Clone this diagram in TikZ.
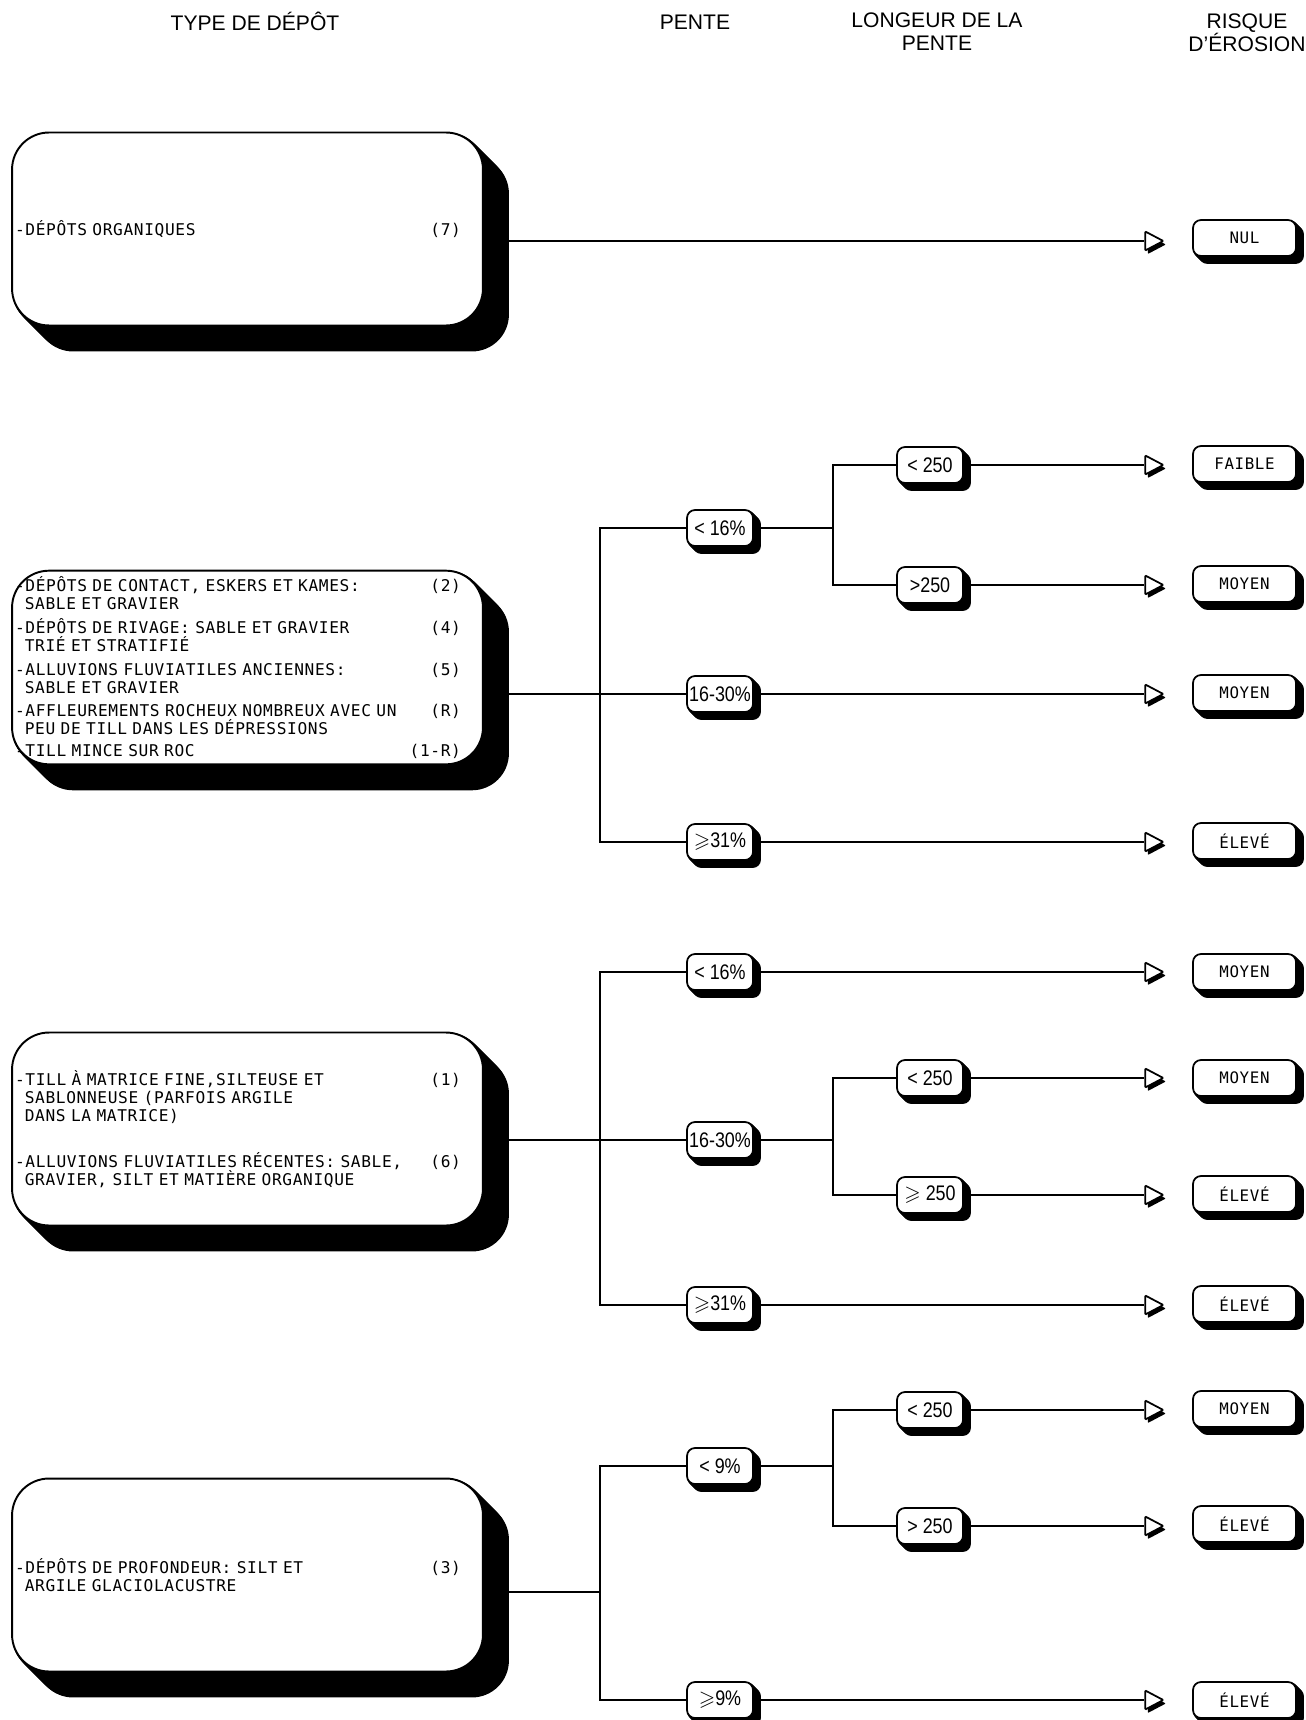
\documentclass[tikz,border=0pt]{standalone}
\usepackage{amssymb}
\usepackage{fontspec}
\newfontfamily\headfont{Liberation Sans}
\newfontfamily\gothfont[LetterSpace=4]{DejaVu Sans Mono}
\newfontfamily\pentefont[FakeStretch=0.85]{Liberation Sans}
\usepackage{tikz}
\usetikzlibrary{positioning, shapes.geometric, shadows, backgrounds, calc}
\newcommand{\depnum}[1]{\hfill(#1)\rule{0.38cm}{0pt}}

\begin{document}
\begin{tikzpicture}[x=0.02cm, y=-0.02cm,
  headtxt/.style={font=\headfont\fontsize{12}{13}\selectfont, align=center},
  depbox/.style={draw, fill=white, line width=1.1pt, rounded corners=0.74cm,
                minimum width=9.42cm, minimum height=3.86cm, text width=9.3cm,
                inner xsep=0.06cm, align=left,
                font=\gothfont\fontsize{9.2}{10.2}\selectfont},
  pentebox/.style={draw, fill=white, line width=1pt, rounded corners=0.16cm,
                minimum width=1.32cm, minimum height=0.72cm, inner sep=0pt,
                font=\pentefont\fontsize{12}{13}\selectfont},
  riskbox/.style={draw, fill=white, line width=1pt, rounded corners=0.16cm,
                minimum width=2.06cm, minimum height=0.72cm, inner sep=0pt,
                font=\gothfont\fontsize{9}{10}\selectfont},
  arrowtri/.style={isosceles triangle, isosceles triangle stretches, draw,
                fill=white, line width=1pt, inner sep=0pt, rounded corners=0.5pt,
                minimum width=0.38cm, minimum height=0.36cm,
                drop shadow={shadow xshift=0.05cm, shadow yshift=-0.07cm,
                             opacity=1, fill=black}},
  wire/.style={line width=1pt},
]
\useasboundingbox (0,0) rectangle (1305,1720);

% Headers
\node[headtxt] (hdep) at (255,21) {TYPE DE DÉPÔT};
\node[headtxt] (hpente) at (695,22) {PENTE};
\node[headtxt] (hlong) at (937,32) {LONGEUR DE LA\\PENTE};
\node[headtxt] (hrisk) at (1247,33) {RISQUE\\D’ÉROSION};

% Deposit boxes
\node[depbox] (dep1) at (247.5,229) {-DÉPÔTS ORGANIQUES\depnum{7}};
\node[depbox] (dep2) at (247.5,667.5) {%
  -DÉPÔTS DE CONTACT, ESKERS ET KAMES:\depnum{2}\\
  \phantom{-}SABLE ET GRAVIER\\[3.4pt]
  -DÉPÔTS DE RIVAGE: SABLE ET GRAVIER\depnum{4}\\
  \phantom{-}TRIÉ ET STRATIFIÉ\\[3.4pt]
  -ALLUVIONS FLUVIATILES ANCIENNES:\depnum{5}\\
  \phantom{-}SABLE ET GRAVIER\\[3.4pt]
  -AFFLEUREMENTS ROCHEUX NOMBREUX AVEC UN\depnum{R}\\
  \phantom{-}PEU DE TILL DANS LES DÉPRESSIONS\\[2pt]
  -TILL MINCE SUR ROC\depnum{1-R}};
\node[depbox] (dep3) at (247.5,1129) {%
  -TILL À MATRICE FINE,SILTEUSE ET\depnum{1}\\
  \phantom{-}SABLONNEUSE (PARFOIS ARGILE\\
  \phantom{-}DANS LA MATRICE)\\[16pt]
  -ALLUVIONS FLUVIATILES RÉCENTES: SABLE,\depnum{6}\\
  \phantom{-}GRAVIER, SILT ET MATIÈRE ORGANIQUE};
\node[depbox] (dep4) at (247.5,1575) {%
  -DÉPÔTS DE PROFONDEUR: SILT ET\depnum{3}\\
  \phantom{-}ARGILE GLACIOLACUSTRE};

% Junctions
\coordinate (j2) at (600,694);
\coordinate (j3) at (600,1140);
\coordinate (j4) at (600,1592);
\coordinate (k2) at (833,528);
\coordinate (k3) at (833,1140);
\coordinate (k4) at (833,1466);

% Pente
\node[pentebox] (p2a) at (720,528) {< 16\%};
\node[pentebox] (p2b) at (720,694) {16-30\%};
\node[pentebox] (p2c) at (720,842) {$\geqslant$31\%};
\node[pentebox] (p3a) at (720,972) {< 16\%};
\node[pentebox] (p3b) at (720,1140) {16-30\%};
\node[pentebox] (p3c) at (720,1305) {$\geqslant$31\%};
\node[pentebox] (p4a) at (720,1466) {< 9\%};
\node[pentebox] (p4b) at (720,1700) {$\geqslant$9\%};

% Longueur de la pente
\node[pentebox] (l2a) at (930,465) {< 250};
\node[pentebox] (l2b) at (930,585) {>250};
\node[pentebox] (l3a) at (930,1078) {< 250};
\node[pentebox] (l3b) at (930,1195) {$\geqslant$ 250};
\node[pentebox] (l4a) at (930,1410) {< 250};
\node[pentebox] (l4b) at (930,1526) {> 250};

% Arrow heads
\node[arrowtri] (t1) at (1151,241) {};
\node[arrowtri] (t2a) at (1151,465) {};
\node[arrowtri] (t2b) at (1151,585) {};
\node[arrowtri] (t2c) at (1151,694) {};
\node[arrowtri] (t2d) at (1151,842) {};
\node[arrowtri] (t3a) at (1151,972) {};
\node[arrowtri] (t3b) at (1151,1078) {};
\node[arrowtri] (t3c) at (1151,1195) {};
\node[arrowtri] (t3d) at (1151,1305) {};
\node[arrowtri] (t4a) at (1151,1410) {};
\node[arrowtri] (t4b) at (1151,1526) {};
\node[arrowtri] (t4c) at (1151,1700) {};

% Risque d'erosion
\node[riskbox] (r1) at (1244.5,238) {NUL};
\node[riskbox] (r2a) at (1244.5,464) {FAIBLE};
\node[riskbox] (r2b) at (1244.5,584) {MOYEN};
\node[riskbox] (r2c) at (1244.5,693) {MOYEN};
\node[riskbox] (r2d) at (1244.5,841) {ÉLEVÉ};
\node[riskbox] (r3a) at (1244.5,972) {MOYEN};
\node[riskbox] (r3b) at (1244.5,1078) {MOYEN};
\node[riskbox] (r3c) at (1244.5,1194) {ÉLEVÉ};
\node[riskbox] (r3d) at (1244.5,1304) {ÉLEVÉ};
\node[riskbox] (r4a) at (1244.5,1409) {MOYEN};
\node[riskbox] (r4b) at (1244.5,1524) {ÉLEVÉ};
\node[riskbox] (r4c) at (1244.5,1700) {ÉLEVÉ};

% Connectors
\draw[wire] (dep1.east |- t1) -- (t1.west);

\draw[wire] (dep2.east |- j2) -- (j2);
\draw[wire] (p2a.west) -| (j2) |- (p2c.west);
\draw[wire] (j2) -- (p2b.west);
\draw[wire] (p2a.east) -- (k2);
\draw[wire] (l2a.west) -| (k2) |- (l2b.west);
\draw[wire] (l2a.east) -- (t2a.west);
\draw[wire] (l2b.east) -- (t2b.west);
\draw[wire] (p2b.east) -- (t2c.west);
\draw[wire] (p2c.east) -- (t2d.west);

\draw[wire] (dep3.east |- j3) -- (j3);
\draw[wire] (p3a.west) -| (j3) |- (p3c.west);
\draw[wire] (j3) -- (p3b.west);
\draw[wire] (p3a.east) -- (t3a.west);
\draw[wire] (p3b.east) -- (k3);
\draw[wire] (l3a.west) -| (k3) |- (l3b.west);
\draw[wire] (l3a.east) -- (t3b.west);
\draw[wire] (l3b.east) -- (t3c.west);
\draw[wire] (p3c.east) -- (t3d.west);

\draw[wire] (dep4.east |- j4) -- (j4);
\draw[wire] (p4a.west) -| (j4) |- (p4b.west);
\draw[wire] (p4a.east) -- (k4);
\draw[wire] (l4a.west) -| (k4) |- (l4b.west);
\draw[wire] (l4a.east) -- (t4a.west);
\draw[wire] (l4b.east) -- (t4b.west);
\draw[wire] (p4b.east) -- (t4c.west);

% Shadows
\begin{pgfonlayer}{background}
\foreach \n in {dep1,dep2,dep3,dep4}
  \foreach \s in {1,...,25}
    \fill[rounded corners=0.74cm] ([shift={(\s,\s)}]\n.south west)
      rectangle ([shift={(\s,\s)}]\n.north east);
\foreach \n in {p2a,p2b,p2c,p3a,p3b,p3c,p4a,p4b,l2a,l2b,l3a,l3b,l4a,l4b,
                r1,r2a,r2b,r2c,r2d,r3a,r3b,r3c,r3d,r4a,r4b,r4c}
  \foreach \s in {1,...,7}
    \fill[rounded corners=0.16cm] ([shift={(\s,\s)}]\n.south west)
      rectangle ([shift={(\s,\s)}]\n.north east);
\end{pgfonlayer}
\end{tikzpicture}
\end{document}
